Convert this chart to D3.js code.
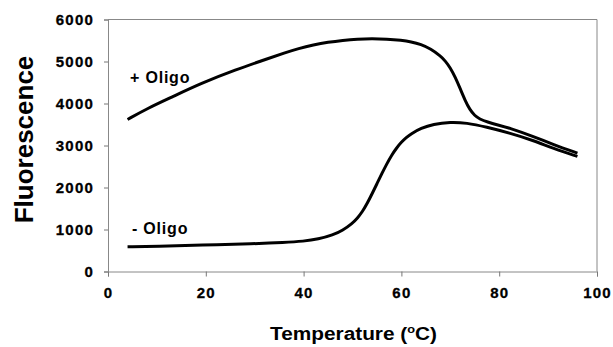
<!DOCTYPE html>
<html lang="en">
<head>
    <meta charset="UTF-8">
    <title>Fluorescence vs Temperature</title>
    <script src="https://d3js.org/d3.v7.min.js"></script>
    <style>
        body { margin: 0; background: #fff; }
        svg text { font-family: "Liberation Sans", Arial, sans-serif; font-weight: bold; fill: #000; }
    </style>
</head>
<body>
    <div id="chart"></div>
    <script>
        // + Oligo curve (temperature, fluorescence)
        const plusTemp = [4, 8, 13, 19, 26, 33, 36, 39, 42, 45, 48, 51, 54, 57, 60, 62, 64, 66, 68, 69, 70, 71, 72, 73, 74, 75, 76, 77.5, 80, 82, 87, 91, 96];
        const plusFluo = [3620, 3880, 4150, 4480, 4800, 5080, 5200, 5310, 5395, 5460, 5505, 5535, 5545, 5535, 5505, 5470, 5410, 5300, 5130, 5010, 4850, 4630, 4360, 4080, 3850, 3710, 3630, 3560, 3480, 3420, 3215, 3025, 2820];

        // - Oligo curve
        const minusTemp = [4, 10, 19, 30, 36, 40, 43, 46, 48, 50, 51, 52, 53, 54, 55, 56, 57, 58, 59, 60, 61, 62, 64, 66.5, 70, 73.3, 77.4, 82, 87, 91, 96];
        const minusFluo = [590, 600, 630, 660, 690, 720, 770, 870, 980, 1150, 1270, 1420, 1620, 1850, 2090, 2330, 2560, 2770, 2940, 3080, 3190, 3280, 3410, 3510, 3560, 3540, 3440, 3300, 3120, 2930, 2740];

        const xTicks = [0, 20, 40, 60, 80, 100];
        const yTicks = [0, 1000, 2000, 3000, 4000, 5000, 6000];

        const W = 613, H = 347;
        const margin = { top: 19.5, right: 16, bottom: 75.5, left: 108 };
        const width = W - margin.left - margin.right;
        const height = H - margin.top - margin.bottom;

        const svg = d3.select("#chart").append("svg").attr("width", W).attr("height", H);
        const g = svg.append("g").attr("transform", `translate(${margin.left},${margin.top})`);

        const x = d3.scaleLinear().domain([0, 100]).range([0, width]);
        const y = d3.scaleLinear().domain([0, 6000]).range([height, 0]);

        // plot frame (top and right)
        g.append("path")
            .attr("d", `M0,0H${width}V${height}`)
            .attr("fill", "none")
            .attr("stroke", "#888")
            .attr("stroke-width", 1);

        const xAxis = g.append("g")
            .attr("transform", `translate(0,${height})`)
            .call(d3.axisBottom(x).tickValues(xTicks).tickFormat(d3.format("d")).tickSize(5).tickPadding(11));
        const yAxis = g.append("g")
            .call(d3.axisLeft(y).tickValues(yTicks).tickFormat(d3.format("d")).tickSize(4).tickPadding(10));

        [xAxis, yAxis].forEach(a => {
            a.attr("font-size", 15).attr("font-family", null);
            a.select(".domain").attr("stroke", "#888");
            a.selectAll(".tick line").attr("stroke", "#777");
            a.selectAll(".tick text")
                .attr("font-weight", "bold")
                .attr("letter-spacing", 1.2)
                .attr("stroke", "#000").attr("stroke-width", 0.3);
        });

        const line = d3.line()
            .x(d => x(d[0]))
            .y(d => y(d[1]))
            .curve(d3.curveBasis);

        const plus = plusTemp.map((t, i) => [t, plusFluo[i]]);
        const minus = minusTemp.map((t, i) => [t, minusFluo[i]]);

        [plus, minus].forEach(s => {
            g.append("path")
                .attr("d", line(s))
                .attr("fill", "none")
                .attr("stroke", "#000")
                .attr("stroke-width", 3)
                .attr("stroke-linejoin", "round");
        });

        // series labels
        svg.append("text").attr("x", 130).attr("y", 83)
            .attr("font-size", 16).attr("letter-spacing", 0.8).text("+ Oligo");
        svg.append("text").attr("x", 132).attr("y", 234)
            .attr("font-size", 16).attr("letter-spacing", 0.8).text("- Oligo");

        // axis titles
        const xt = svg.append("text")
            .attr("x", 270).attr("y", 340)
            .attr("font-size", 18)
            .attr("textLength", 167).attr("lengthAdjust", "spacingAndGlyphs");
        xt.append("tspan").text("Temperature (");
        xt.append("tspan").attr("font-size", 11).attr("dy", -7).text("o");
        xt.append("tspan").attr("dy", 7).text("C)");

        svg.append("text")
            .attr("transform", "translate(33,139.5) rotate(-90)")
            .attr("text-anchor", "middle")
            .attr("font-size", 26)
            .text("Fluorescence");
    </script>
</body>
</html>
